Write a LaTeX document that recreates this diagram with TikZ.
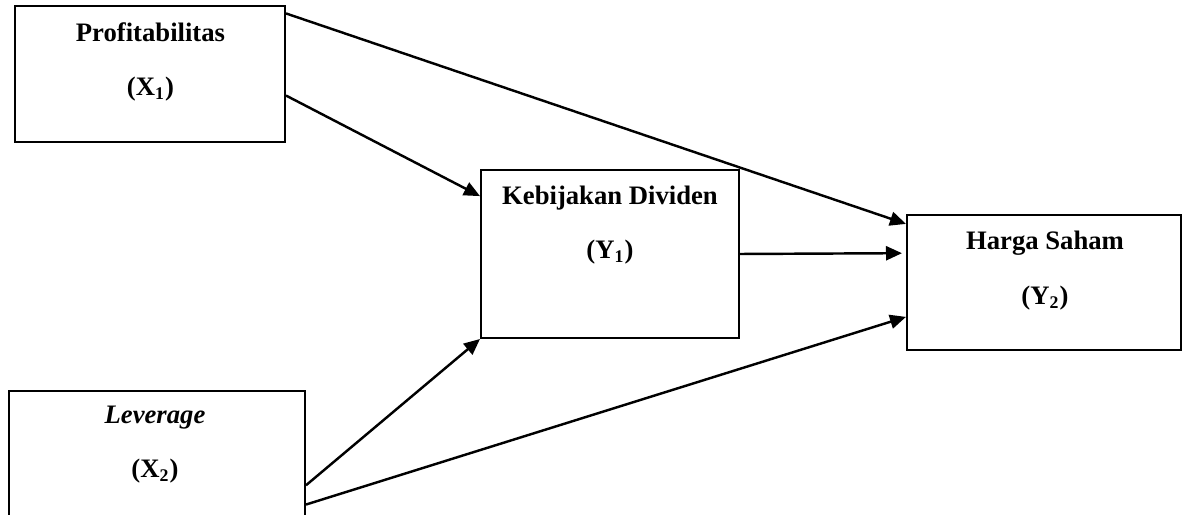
\documentclass[tikz,border=0pt]{standalone}
\usepackage{fontspec}
\setmainfont{Liberation Serif}
\usetikzlibrary{arrows.meta,positioning}
\tikzset{box/.style={draw,line width=0.9pt,inner sep=0pt},
  lbl/.style={align=center,inner sep=0pt,font=\fontsize{12}{14.4}\selectfont\bfseries},
  arr/.style={-{Triangle[length=7.2pt,width=6.3pt]},line width=1.1pt}}

\begin{document}
\begin{tikzpicture}[x=0.45pt,y=-0.45pt]
\useasboundingbox (0,0) rectangle (1184,515);
\clip (0,0) rectangle (1184,515);
\node[box,minimum width=121.5pt,minimum height=61.2pt] (prof) at (150,74) {};
\node[box,minimum width=133.2pt,minimum height=61.2pt] (lev) at (157,459) {};
\node[box,minimum width=116.1pt,minimum height=75.6pt] (keb) at (610,254) {};
\node[box,minimum width=123.3pt,minimum height=60.75pt] (harga) at (1044,282.5) {};
\node[lbl] (proftxt) at (150.5,62) {Profitabilitas\\[10pt](X\textsubscript{1})};
\node[lbl] (levtxt) at (155,444.5) {\textit{Leverage}\\[10pt](X\textsubscript{2})};
\node[lbl] (kebtxt) at (610,225) {Kebijakan Dividen\\[10pt](Y\textsubscript{1})};
\node[lbl] (hargatxt) at (1045,270.5) {Harga Saham\\[10pt](Y\textsubscript{2})};
\draw[arr] (prof.24.3) -- (harga.157.2);
\draw[arr] (prof.-9.7) -- (keb.156.2);
\draw[arr,shorten >=1.8pt] (keb.east) -- (harga.168.6);
\draw[arr] (lev.-10.3) -- (keb.south west);
\draw[arr] (lev.-17.6) -- (harga.194.1);
\end{tikzpicture}
\end{document}
